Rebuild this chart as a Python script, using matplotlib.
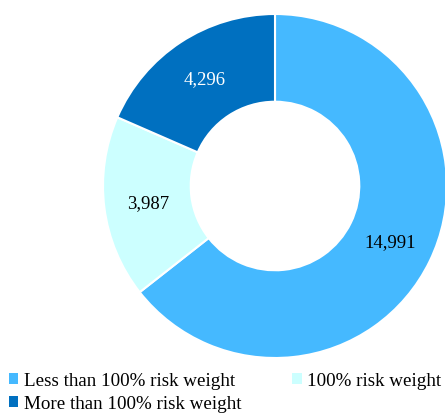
import numpy as np
import matplotlib
matplotlib.use("Agg")
from matplotlib import pyplot as plt

categories = ["Less than 100% risk weight", "100% risk weight", "More than 100% risk weight"]
values = [14991, 3987, 4296]
colors = ["#45B9FF", "#CCFFFF", "#0070C0"]
label_colors = ["black", "black", "white"]

plt.rcParams['font.family'] = ['Liberation Serif', 'DejaVu Serif']

fig = plt.figure(figsize=(4.45, 4.14), dpi=100)
ax = fig.add_axes([0, 0, 1, 1])

total = sum(values)
wedges, _, autotexts = ax.pie(
    values, colors=colors, startangle=90, counterclock=False,
    radius=1.0, wedgeprops=dict(width=0.51, edgecolor="white", linewidth=1.5),
    autopct=lambda p: f"{p * total / 100:,.0f}", pctdistance=0.745,
    textprops=dict(fontsize=13.5),
)
for t, c in zip(autotexts, label_colors):
    t.set_color(c)

# pixel layout: centre at (275, 187), outer radius 172 px
r = 172.0
ax.set_xlim((0 - 275) / r, (445 - 275) / r)
ax.set_ylim((187 - 414) / r, (187 - 0) / r)
ax.set_aspect("auto")
ax.axis("off")

order = [0, 2, 1]
leg = fig.legend([wedges[i] for i in order], [categories[i] for i in order],
                 ncol=2, loc="upper left", bbox_to_anchor=(0.02, 1 - 373 / 414),
                 frameon=False, fontsize=13.7, handlelength=0.5, handleheight=0.5,
                 handletextpad=0.3, columnspacing=2.65, labelspacing=0.32,
                 borderpad=0, borderaxespad=0)
for h in leg.legend_handles:
    h.set_edgecolor("none")

fig.savefig("out.png", dpi=100)
